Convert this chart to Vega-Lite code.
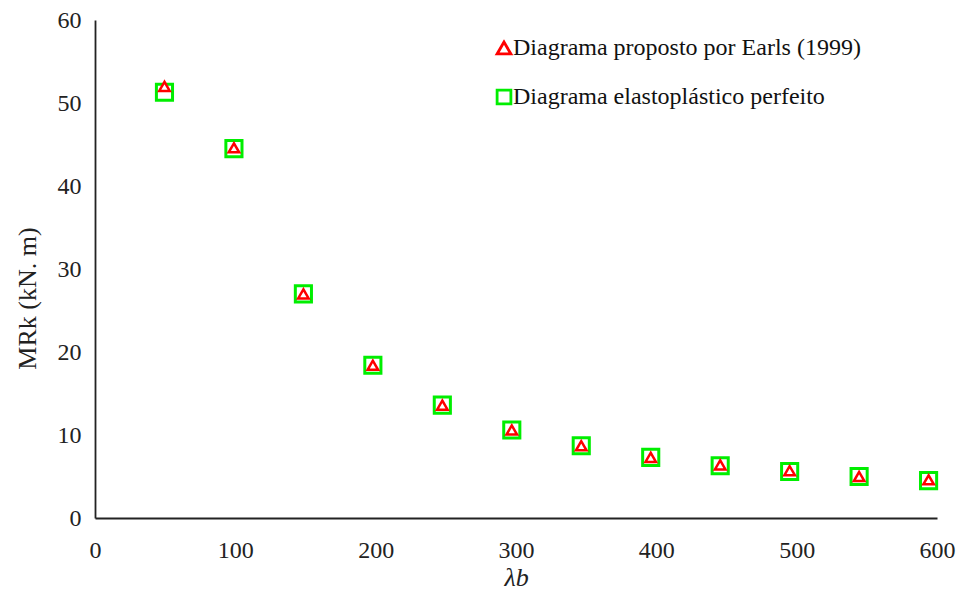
{
  "$schema": "https://vega.github.io/schema/vega-lite/v6.json",
  "width": 842,
  "height": 498,
  "autosize": {"type": "none"},
  "padding": {"left": 95, "top": 20, "right": 26, "bottom": 81},
  "background": "white",
  "config": {
    "view": {"stroke": null},
    "font": "Liberation Serif",
    "axis": {"grid": false, "ticks": false, "domainColor": "#222", "domainWidth": 1.8, "labelFont": "Liberation Serif", "labelFontSize": 24, "labelColor": "#222", "titleFont": "Liberation Serif", "titleFontSize": 26, "titleFontWeight": "normal", "titleColor": "#222"},
    "legend": {"labelFont": "Liberation Serif", "labelFontSize": 24, "labelColor": "#111", "labelLimit": 600}
  },
  "data": {"values": [
    {"serie": "Diagrama proposto por Earls (1999)", "lambda": 49.5, "M": 52.0},
    {"serie": "Diagrama proposto por Earls (1999)", "lambda": 99, "M": 44.6},
    {"serie": "Diagrama proposto por Earls (1999)", "lambda": 148.5, "M": 27.0},
    {"serie": "Diagrama proposto por Earls (1999)", "lambda": 198, "M": 18.4},
    {"serie": "Diagrama proposto por Earls (1999)", "lambda": 247.5, "M": 13.6},
    {"serie": "Diagrama proposto por Earls (1999)", "lambda": 297, "M": 10.6},
    {"serie": "Diagrama proposto por Earls (1999)", "lambda": 346.5, "M": 8.7},
    {"serie": "Diagrama proposto por Earls (1999)", "lambda": 396, "M": 7.3},
    {"serie": "Diagrama proposto por Earls (1999)", "lambda": 445.5, "M": 6.4},
    {"serie": "Diagrama proposto por Earls (1999)", "lambda": 495, "M": 5.7},
    {"serie": "Diagrama proposto por Earls (1999)", "lambda": 544.5, "M": 5.0},
    {"serie": "Diagrama proposto por Earls (1999)", "lambda": 594, "M": 4.6},
    {"serie": "Diagrama elastoplástico perfeito", "lambda": 49.5, "M": 51.3},
    {"serie": "Diagrama elastoplástico perfeito", "lambda": 99, "M": 44.5},
    {"serie": "Diagrama elastoplástico perfeito", "lambda": 148.5, "M": 27.0},
    {"serie": "Diagrama elastoplástico perfeito", "lambda": 198, "M": 18.4},
    {"serie": "Diagrama elastoplástico perfeito", "lambda": 247.5, "M": 13.6},
    {"serie": "Diagrama elastoplástico perfeito", "lambda": 297, "M": 10.6},
    {"serie": "Diagrama elastoplástico perfeito", "lambda": 346.5, "M": 8.7},
    {"serie": "Diagrama elastoplástico perfeito", "lambda": 396, "M": 7.3},
    {"serie": "Diagrama elastoplástico perfeito", "lambda": 445.5, "M": 6.3},
    {"serie": "Diagrama elastoplástico perfeito", "lambda": 495, "M": 5.6},
    {"serie": "Diagrama elastoplástico perfeito", "lambda": 544.5, "M": 5.0},
    {"serie": "Diagrama elastoplástico perfeito", "lambda": 594, "M": 4.5}
  ]},
  "encoding": {
    "x": {"field": "lambda", "type": "quantitative", "scale": {"domain": [0, 600], "nice": false}, "axis": {"values": [0, 100, 200, 300, 400, 500, 600], "labelFlush": false, "labelPadding": 20, "title": "λb", "titleFontStyle": "italic", "titlePadding": 2}},
    "y": {"field": "M", "type": "quantitative", "scale": {"domain": [0, 60], "nice": false}, "axis": {"values": [0, 10, 20, 30, 40, 50, 60], "labelPadding": 14, "title": "MRk (kN. m)", "titlePadding": 17, "titleY": 278}},
    "color": {"field": "serie", "type": "nominal", "scale": {"domain": ["Diagrama proposto por Earls (1999)", "Diagrama elastoplástico perfeito"], "range": ["#ff0000", "#00ee00"]},
      "legend": {"title": null, "orient": "none", "legendX": 397, "legendY": 16, "labelFontSize": 24, "labelLimit": 600, "rowPadding": 24, "symbolSize": 190, "symbolStrokeWidth": 2.8, "symbolFillColor": "white", "labelOffset": -3}},
    "shape": {"field": "serie", "type": "nominal", "scale": {"domain": ["Diagrama proposto por Earls (1999)", "Diagrama elastoplástico perfeito"], "range": ["triangle-up", "square"]}}
  },
  "layer": [
    {"transform": [{"filter": "datum.serie === 'Diagrama elastoplástico perfeito'"}], "mark": {"type": "point", "filled": false, "fill": "white", "fillOpacity": 1, "strokeWidth": 3, "size": 260, "opacity": 1}},
    {"transform": [{"filter": "datum.serie === 'Diagrama proposto por Earls (1999)'"}], "mark": {"type": "point", "filled": false, "fill": "white", "fillOpacity": 1, "strokeWidth": 2.5, "size": 110, "opacity": 1}}
  ]
}
